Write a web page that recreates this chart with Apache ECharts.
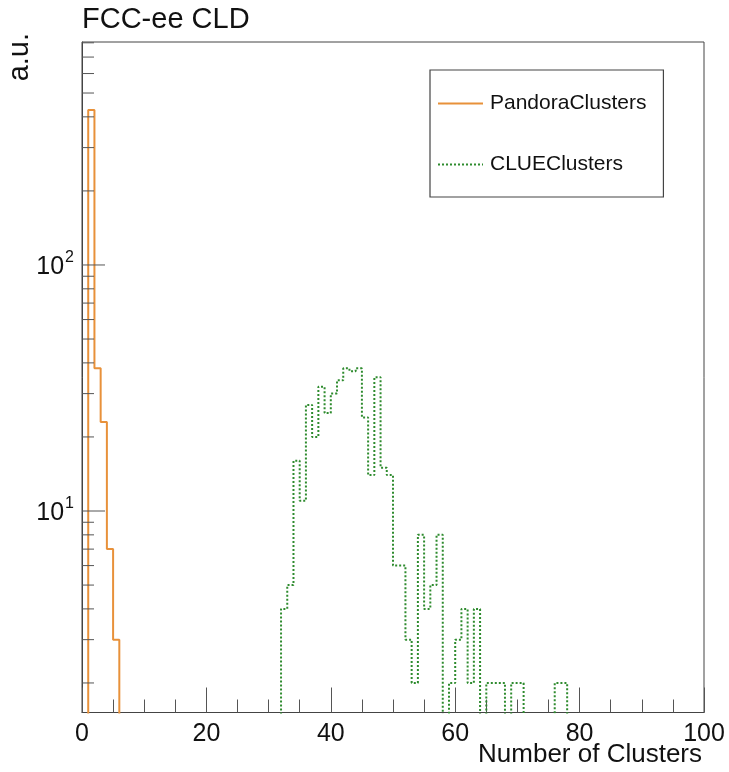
<!DOCTYPE html>
<html>
<head>
<meta charset="utf-8">
<script src="https://cdn.jsdelivr.net/npm/echarts@6/dist/echarts.min.js"></script>
<style>
html,body{margin:0;padding:0;background:#fff;}
#chart{width:729px;height:772px;}
</style>
</head>
<body>
<div id="chart"></div>
<script>
// ---- data ----
const seriesNames = ['PandoraClusters', 'CLUEClusters'];
const pandoraStart = 1;            // first bin low edge
const pandoraCounts = [427, 38, 23, 7, 3];
const clueStart = 32;              // first bin low edge
const clueCounts = [4, 5, 16, 11, 27, 20, 32, 25, 30, 34, 38, 37, 38, 24, 14, 35, 15, 14,
                    6, 6, 3, 2, 8, 4, 5, 8, 0, 2, 3, 4, 2, 4, 0, 2, 2, 2, 0, 2, 2,
                    0, 0, 0, 0, 0, 2, 2];
const xMin = 0, xMax = 100, xStep = 20;
const yMin = 1.517, yMax = 806;
const yMajorTicks = [10, 100];
const yMinorTicks = [2, 3, 4, 5, 6, 7, 8, 9, 20, 30, 40, 50, 60, 70, 80, 90, 200, 300, 400, 500, 600, 700, 800];
const titleText = 'FCC-ee CLD';
const xTitle = 'Number of Clusters';
const yTitle = 'a.u.';

// ---- build step outlines from the counts ----
function histPoints(start, counts) {
  const floor = yMin * 0.5; // below visible range -> clipped
  const pts = [[start, floor]];
  counts.forEach((c, i) => pts.push([start + i, c > 0 ? c : floor]));
  const last = counts[counts.length - 1];
  pts.push([start + counts.length, last > 0 ? last : floor]);
  pts.push([start + counts.length, floor]);
  return pts;
}

const FONT = "'Liberation Sans', Arial, sans-serif";
const axisCol = '#444';
const tickCol = '#555';

function tickSeries(values, len) {
  return {
    type: 'custom',
    silent: true,
    clip: false,
    z: 3,
    data: values.map(v => [xMin, v]),
    encode: {x: 0, y: 1},
    renderItem: function (params, api) {
      const p = api.coord([api.value(0), api.value(1)]);
      return {
        type: 'line',
        shape: {x1: p[0], y1: p[1], x2: p[0] + len, y2: p[1]},
        style: {stroke: tickCol, lineWidth: 1}
      };
    }
  };
}

const chart = echarts.init(document.getElementById('chart'), null, {renderer: 'canvas'});
chart.setOption({
  animation: false,
  backgroundColor: '#fff',
  grid: {
    left: 82, right: 25, top: 42, bottom: 59.5,
    show: true, borderColor: axisCol, borderWidth: 1,
    outerBoundsMode: 'none', containLabel: false
  },
  legend: {
    data: seriesNames,
    orient: 'vertical',
    left: 430, top: 70,
    itemWidth: 45, itemHeight: 20, itemGap: 40,
    padding: [23, 17, 22, 7],
    borderColor: axisCol, borderWidth: 1.2,
    backgroundColor: '#fff',
    itemStyle: {opacity: 0, borderWidth: 0},
    textStyle: {fontSize: 21, fontFamily: FONT, color: '#111', padding: [0, 0, 0, 2]},
    selectedMode: false
  },
  xAxis: {
    type: 'value', min: xMin, max: xMax, interval: xStep,
    axisLine: {show: true, onZero: false, lineStyle: {color: axisCol, width: 1}},
    axisTick: {show: true, inside: true, length: 25, lineStyle: {color: tickCol, width: 1}},
    minorTick: {show: true, splitNumber: 4, length: 13, lineStyle: {color: tickCol, width: 1}},
    splitLine: {show: false},
    axisLabel: {fontSize: 25, fontFamily: FONT, color: '#111', margin: 9}
  },
  yAxis: {
    type: 'log', logBase: 10, min: yMin, max: yMax,
    axisLine: {show: true, lineStyle: {color: axisCol, width: 1}},
    axisTick: {show: false},
    splitLine: {show: false},
    axisLabel: {
      margin: 8, showMinLabel: false, showMaxLabel: false,
      formatter: function (v) {
        const e = Math.log10(v);
        if (Math.abs(e - Math.round(e)) > 1e-6) return '';
        return '{b|10}{s|' + Math.round(e) + '}';
      },
      rich: {
        b: {fontSize: 25, fontFamily: FONT, color: '#111', lineHeight: 30, verticalAlign: 'bottom'},
        s: {fontSize: 16, fontFamily: FONT, color: '#111', lineHeight: 30, verticalAlign: 'top', padding: [0, 0, 0, 1]}
      }
    }
  },
  graphic: [
    {type: 'text', left: 82, top: 5, style: {text: titleText, font: '29px ' + FONT, fill: '#111'}},
    {type: 'text', right: 27, top: 742, style: {text: xTitle, font: '26px ' + FONT, fill: '#111'}},
    {type: 'text', x: 20, y: 33, rotation: Math.PI / 2,
     style: {text: yTitle, font: '29px ' + FONT, fill: '#111', align: 'right', verticalAlign: 'middle'}}
  ],
  series: [
    {
      name: seriesNames[0], type: 'line', step: 'end', symbol: 'none', clip: true,
      data: histPoints(pandoraStart, pandoraCounts),
      lineStyle: {color: '#e8913a', width: 2},
      itemStyle: {color: '#e8913a', opacity: 0},
      z: 2
    },
    {
      name: seriesNames[1], type: 'line', step: 'end', symbol: 'none', clip: true,
      data: histPoints(clueStart, clueCounts),
      lineStyle: {color: '#2e8b2e', width: 2, type: [2, 2]},
      itemStyle: {color: '#2e8b2e', opacity: 0},
      z: 2
    },
    tickSeries(yMajorTicks, 23),
    tickSeries(yMinorTicks, 12)
  ]
});
</script>
</body>
</html>
